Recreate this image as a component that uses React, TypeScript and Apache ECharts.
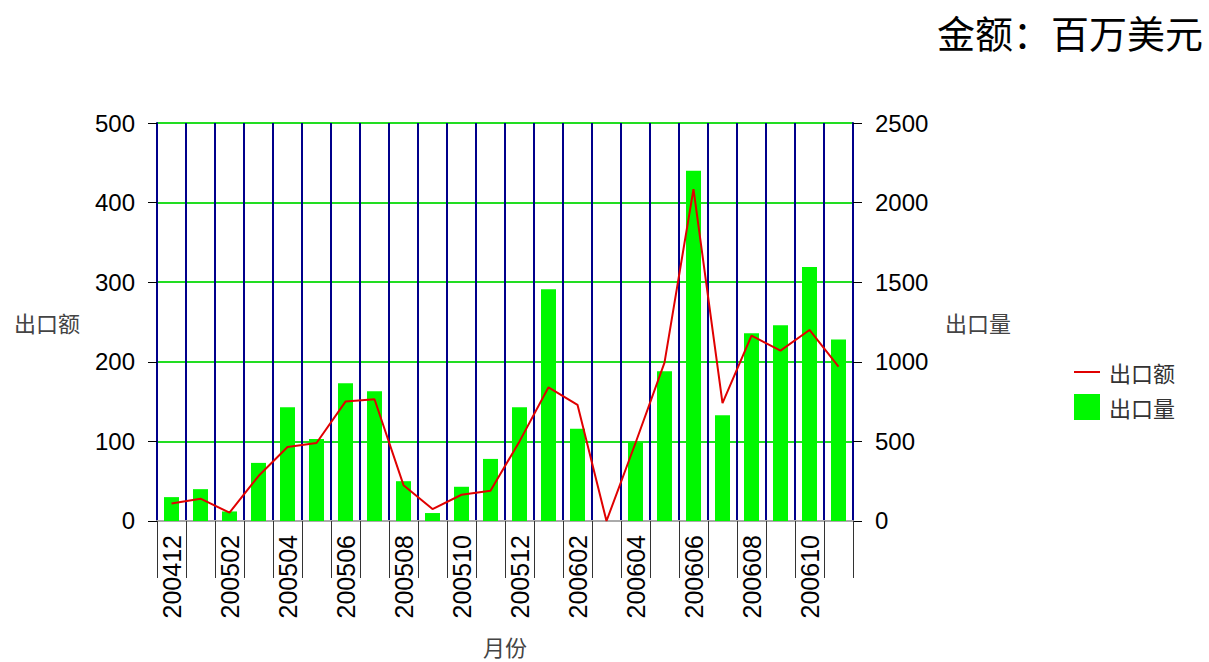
import React, { useEffect, useRef } from "react";
import * as echarts from "echarts";

const months = [
  "200412", "200501", "200502", "200503", "200504", "200505", "200506", "200507",
  "200508", "200509", "200510", "200511", "200512", "200601", "200602", "200603",
  "200604", "200605", "200606", "200607", "200608", "200609", "200610", "200611",
];
const exportValue = [22, 28, 10.5, 56.5, 93, 98, 150, 153, 45, 15, 33, 38, 100, 168, 146, 0, 98, 199, 417, 148, 233, 214, 240, 194];
const exportVolume = [150, 200, 60, 365, 715, 515, 865, 815, 250, 50, 215, 390, 715, 1455, 580, 0, 495, 940, 2200, 665, 1180, 1230, 1595, 1140];
const valueAxisName = "出口额";
const volumeAxisName = "出口量";
const xAxisName = "月份";
const unitText = "金额：百万美元";

export default function App() {
  const ref = useRef<HTMLDivElement>(null);
  useEffect(() => {
    if (!ref.current) return;
    const chart = echarts.init(ref.current, undefined, { renderer: "svg" });
    const cjk = "'Noto Sans CJK SC', sans-serif";
    const num = "'Liberation Sans', Arial, sans-serif";
    const plain = (v: number) => String(v);
    chart.setOption({
      animation: false,
      backgroundColor: "#ffffff",
      grid: { left: 157, right: 356, top: 123, bottom: 137, containLabel: false },
      graphic: [
        {
          type: "text",
          right: 6,
          top: 12,
          style: { text: unitText, font: `38px ${cjk}`, fill: "#000" },
        },
      ],
      legend: {
        orient: "vertical",
        left: 1069,
        top: 354,
        itemWidth: 26,
        itemHeight: 26,
        itemGap: 9,
        textStyle: { fontFamily: cjk, fontSize: 22, color: "#333", padding: [0, 0, 0, 4] },
        data: [
          { name: valueAxisName, icon: "path://M0,0M26,26M0,12H26V14H0Z" },
          { name: volumeAxisName, icon: "rect" },
        ],
      },
      xAxis: {
        type: "category",
        data: months,
        boundaryGap: true,
        name: xAxisName,
        nameLocation: "middle",
        nameGap: 114,
        nameTextStyle: { fontFamily: cjk, fontSize: 22, color: "#444", verticalAlign: "top" },
        axisLine: { show: true, lineStyle: { color: "#aaaaaa", width: 2 } },
        axisTick: { show: true, interval: 0, length: 57, lineStyle: { color: "#333", width: 1 } },
        axisLabel: { interval: 1, rotate: 90, margin: 14, fontFamily: num, fontSize: 25, color: "#000" },
        splitLine: { show: true, interval: 0, lineStyle: { color: "#00008b", width: 2 } },
      },
      yAxis: [
        {
          type: "value",
          min: 0,
          max: 500,
          interval: 100,
          position: "left",
          name: valueAxisName,
          nameLocation: "middle",
          nameRotate: 0,
          nameGap: 77,
          nameTextStyle: { fontFamily: cjk, fontSize: 22, color: "#444" },
          axisLine: { show: true, lineStyle: { color: "#00008b", width: 2 } },
          axisTick: { show: true, length: 9, lineStyle: { color: "#000", width: 1 } },
          axisLabel: { margin: 22, fontFamily: num, fontSize: 24, color: "#000", formatter: plain },
          splitLine: { show: true, lineStyle: { color: "#22dd22", width: 2 } },
        },
        {
          type: "value",
          min: 0,
          max: 2500,
          interval: 500,
          position: "right",
          name: volumeAxisName,
          nameLocation: "middle",
          nameRotate: 0,
          nameGap: 92,
          nameTextStyle: { fontFamily: cjk, fontSize: 22, color: "#444" },
          axisLine: { show: true, lineStyle: { color: "#00008b", width: 2 } },
          axisTick: { show: true, length: 9, lineStyle: { color: "#000", width: 1 } },
          axisLabel: { margin: 22, fontFamily: num, fontSize: 24, color: "#000", formatter: plain },
          splitLine: { show: false },
        },
      ],
      series: [
        {
          name: valueAxisName,
          type: "line",
          yAxisIndex: 0,
          data: exportValue,
          symbol: "none",
          itemStyle: { color: "#e00000" },
          lineStyle: { color: "#e00000", width: 2 },
          z: 5,
        },
        {
          name: volumeAxisName,
          type: "bar",
          yAxisIndex: 1,
          data: exportVolume,
          barWidth: 15,
          itemStyle: { color: "#00f800" },
          z: 2,
        },
      ],
    });
    return () => chart.dispose();
  }, []);
  return <div ref={ref} style={{ position: "fixed", left: 0, top: 0, width: 1209, height: 662 }} />;
}
